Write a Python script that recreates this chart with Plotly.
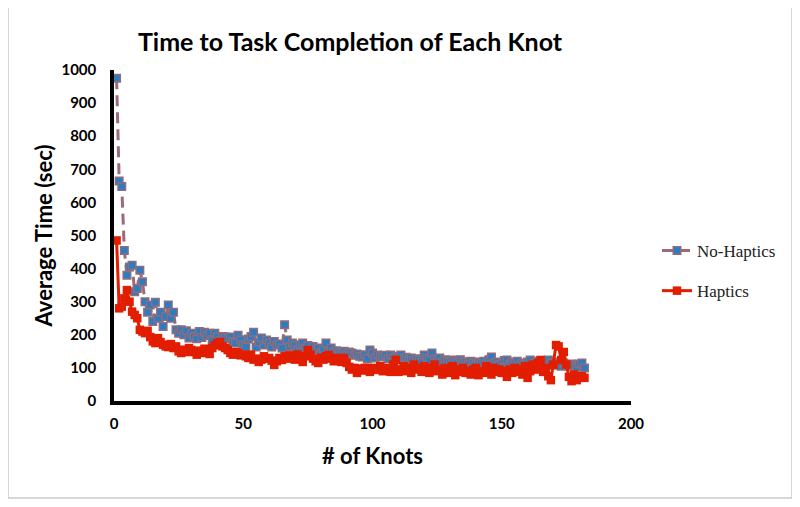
import plotly.graph_objects as go

knots = list(range(1, 183))

no_haptics = [
    975, 665, 648, 455, 380, 405, 410, 330, 340, 395,
    360, 300, 268, 290, 240, 298, 250, 268, 225, 255,
    290, 250, 268, 215, 205, 215, 200, 212, 190, 205,
    195, 188, 210, 192, 208, 198, 205, 185, 205, 195,
    182, 195, 193, 188, 193, 180, 175, 199, 185, 170,
    163, 187, 195, 208, 163, 178, 190, 169, 184, 175,
    163, 180, 169, 172, 160, 230, 184, 165, 175, 168,
    154, 170, 175, 160, 168, 150, 165, 155, 160, 145,
    158, 175, 150, 160, 148, 152, 145, 148, 150, 140,
    148, 145, 138, 142, 135, 133, 140, 128, 154, 145,
    130, 139, 135, 133, 138, 128, 139, 130, 135, 133,
    139, 128, 132, 125, 130, 122, 128, 125, 118, 139,
    130, 125, 145, 128, 122, 130, 118, 125, 120, 118,
    124, 120, 115, 125, 118, 118, 112, 120, 115, 110,
    118, 115, 120, 112, 125, 133, 115, 118, 110, 115,
    122, 124, 110, 118, 115, 120, 108, 115, 112, 118,
    124, 110, 115, 120, 112, 118, 110, 124, 115, 108,
    118, 112, 105, 115, 110, 105, 112, 108, 102, 112,
    115, 100,
]

haptics = [
    485, 280, 285, 310, 335, 300, 270, 260, 250, 215,
    210, 205, 212, 193, 180, 175, 190, 178, 170, 165,
    163, 172, 160, 165, 150, 145, 155, 148, 160, 154,
    148, 140, 152, 145, 158, 150, 142, 160, 168, 175,
    178, 165, 160, 154, 145, 140, 148, 145, 138, 140,
    135, 130, 140, 125, 128, 118, 125, 135, 128, 130,
    122, 109, 120, 130, 124, 135, 128, 138, 130, 125,
    140, 130, 118, 135, 154, 140, 128, 120, 115, 130,
    125, 135, 139, 128, 120, 130, 125, 118, 130, 115,
    103, 95, 100, 85, 98, 92, 100, 100, 88, 95,
    100, 94, 105, 90, 100, 95, 88, 110, 124, 88,
    95, 105, 90, 100, 85, 110, 95, 100, 88, 105,
    95, 85, 100, 110, 90, 95, 80, 100, 92, 85,
    105, 78, 95, 88, 100, 85, 90, 80, 95, 100,
    78, 90, 85, 105, 92, 80, 100, 88, 95, 85,
    90, 73, 95, 85, 100, 88, 95, 80, 105, 70,
    90, 110, 95, 115, 124, 88, 100, 75, 63, 110,
    169, 165, 124, 148, 110, 73, 60, 80, 63, 70,
    75, 70,
]

x_ticks = [0, 50, 100, 150, 200]
y_ticks = [0, 100, 200, 300, 400, 500, 600, 700, 800, 900, 1000]

title_text = "Time to Task Completion of Each Knot"
x_title = "# of Knots"
y_title = "Average Time (sec)"

fig = go.Figure()
fig.add_trace(go.Scatter(
    x=knots, y=no_haptics, name="No-Haptics", mode="lines+markers",
    line=dict(color="#9c6b76", width=3, dash="11px,6px"),
    marker=dict(symbol="square", size=7.5, color="#2a7cc4",
                line=dict(color="#8e6d7c", width=1.5)),
    legendgroup="a",
))
fig.add_trace(go.Scatter(
    x=knots, y=haptics, name="Haptics", mode="lines+markers",
    line=dict(color="#e21d00", width=3),
    marker=dict(symbol="square", size=8.5, color="#e21d00"),
    legendgroup="b",
))

OFF = 8  # page body margin offset
W, H = 800, 507
L = 114 - OFF
T = 70 - OFF
R = W - (631 - OFF)
B = H - (401 - OFF)
pw, ph = W - L - R, H - T - B


def px(xp):
    return (xp - OFF - L) / pw


def py(yp):
    return (H - B - (yp - OFF)) / ph


fig.update_layout(
    width=W, height=H,
    margin=dict(l=L, r=R, t=T, b=B),
    paper_bgcolor="white", plot_bgcolor="white",
    font=dict(family="Lato", color="black"),
    title=dict(text=title_text, x=px(350), xref="paper", xanchor="center",
               y=1 - (42 - OFF) / H, yanchor="middle",
               font=dict(family="Lato", size=25, weight="bold", color="black")),
    xaxis=dict(range=[0, 200], tickvals=x_ticks, showgrid=False, zeroline=False,
               showline=True, linecolor="black", linewidth=3.5, ticks="",
               ticklabelstandoff=6,
               tickfont=dict(family="Lato", size=15, weight="bold"),
               title=dict(text=x_title, standoff=19,
                          font=dict(family="Lato", size=22, weight="bold"))),
    yaxis=dict(range=[0, 1000], tickvals=y_ticks, showgrid=False, zeroline=False,
               showline=True, linecolor="black", linewidth=3.5, ticks="",
               ticklabelstandoff=11,
               tickfont=dict(family="Lato", size=15, weight="bold"),
               title=dict(text=y_title, standoff=4,
                          font=dict(family="Lato", size=22, weight="bold"))),
    legend=dict(x=px(657), y=py(233), xanchor="left", yanchor="top",
                font=dict(family="Liberation Serif", size=17, color="#222"),
                tracegroupgap=15, bgcolor="rgba(0,0,0,0)"),
    showlegend=True,
    shapes=[dict(type="rect", xref="paper", yref="paper",
                 x0=px(8), x1=px(792), y0=py(498), y1=py(7),
                 line=dict(color="#b0b0b0", width=1), layer="below")],
)

fig.write_html("out.html")
